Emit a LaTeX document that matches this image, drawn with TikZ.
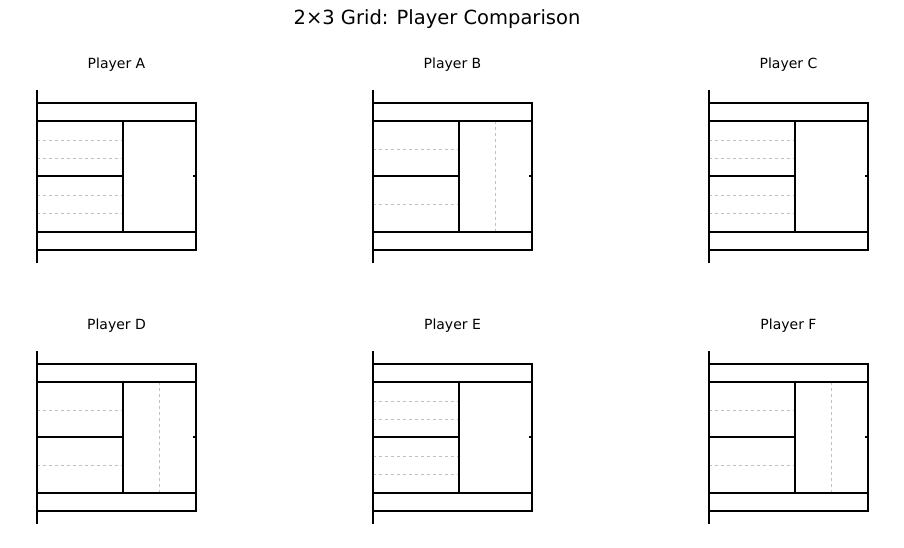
\documentclass[tikz,border=0pt]{standalone}
\usepackage{fontspec}
\setmainfont{DejaVu Sans}
\tikzset{
  court/.style={line width=2.5pt},
  guide/.style={gray!50,dashed,line width=0.8pt},
  panel title/.style={font=\fontsize{14}{16}\selectfont},
}
% one panel: #1,#2 = offset, #3 = label, #4 = 1 for split right half
\newcommand{\playerpanel}[4]{
  \begin{scope}[shift={(#1,#2)}]
    \node[panel title] (t#3) at (116.5,65) {Player #3};
    \ifnum#4=1
      \draw[guide] (37,149) -- (123,149);
      \draw[guide] (37,204) -- (123,204);
      \draw[guide] (159.5,121) -- (159.5,232);
    \else
      \foreach \yy in {140,158,195,213}
        \draw[guide] (37,\yy) -- (123,\yy);
    \fi
    \draw[court] (37,90) -- (37,263);
    \draw[court] (37,103) rectangle (196,250);
    \draw[court] (37,121) -- (196,121);
    \draw[court] (37,232) -- (196,232);
    \draw[court] (123,121) -- (123,232);
    \draw[court] (37,176) -- (123,176);
    \draw[court] (193,176) -- (196,176);
  \end{scope}
}
\begin{document}
\begin{tikzpicture}[x=1pt,y=-1pt]
\useasboundingbox (0,0) rectangle (904,548);
\node[font=\fontsize{19.5}{22}\selectfont] (title) at (437,19) {2×3 Grid: Player Comparison};
\playerpanel{0}{0}{A}{0}
\playerpanel{336}{0}{B}{1}
\playerpanel{672}{0}{C}{0}
\playerpanel{0}{261}{D}{1}
\playerpanel{336}{261}{E}{0}
\playerpanel{672}{261}{F}{1}
\end{tikzpicture}
\end{document}
